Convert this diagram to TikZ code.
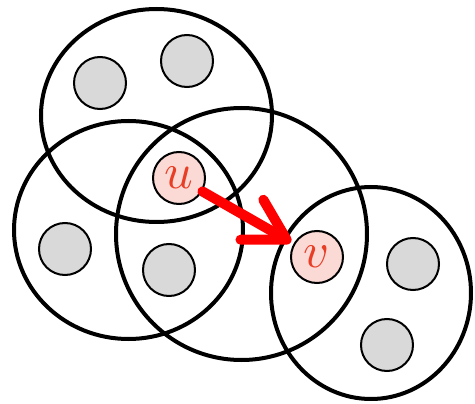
\documentclass[tikz,border=0pt]{standalone}
\usepackage{graphicx}
\usetikzlibrary{arrows.meta}
\definecolor{nodepink}{RGB}{251,217,212}
\definecolor{labelred}{RGB}{232,62,38}
\definecolor{dotgray}{RGB}{217,217,217}
\newcommand{\biglabel}[1]{\scalebox{5}{$#1$}}
\begin{document}
\begin{tikzpicture}[x=1pt,y=-1pt,
  group/.style={draw=black, line width=4pt},
  dot/.style={circle, draw=black, fill=dotgray, line width=2pt, minimum size=52pt, inner sep=0pt},
  vert/.style={circle, draw=black, fill=nodepink, line width=2pt, minimum size=52pt, inner sep=0pt, text=labelred},
  edge/.style={red, line width=10pt, line cap=round, -{Straight Barb[length=40pt,width=46pt,round]}, shorten >=3pt}]
\useasboundingbox (0,0) rectangle (475,404);
% groups
\draw[group] (156.5,115.5) ellipse [x radius=115.5, y radius=106.5];
\draw[group] (128.5,230) ellipse [x radius=114.5, y radius=109];
\draw[group] (241.5,234) ellipse [x radius=125.5, y radius=126];
\draw[group] (371,293) ellipse [x radius=100, y radius=106];
% gray members
\node[dot] (g1) at (100,83) {};
\node[dot] (g2) at (187,61) {};
\node[dot] (g3) at (65,249) {};
\node[dot] (g4) at (169,270) {};
\node[dot] (g5) at (413,264) {};
\node[dot] (g6) at (387,345) {};
% u and v
\node[vert] (u) at (179,178) {\biglabel{u}};
\node[vert] (v) at (317,257) {\biglabel{v}};
\draw[edge] (u) -- (v);
\end{tikzpicture}
\end{document}
